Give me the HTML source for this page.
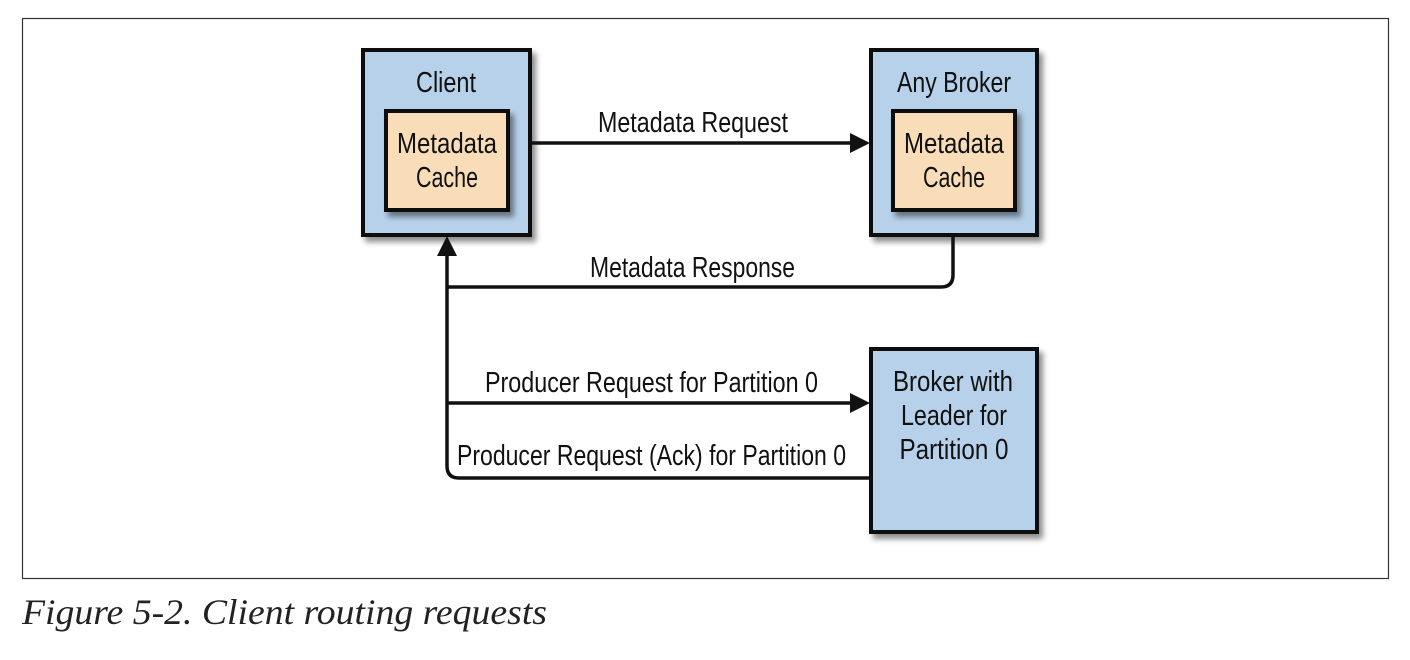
<!DOCTYPE html>
<html><head><style>
html,body{margin:0;padding:0;background:#fff;width:1410px;height:660px;overflow:hidden}
</style></head><body>
<svg width="1410" height="660" viewBox="0 0 1410 660" xmlns="http://www.w3.org/2000/svg">
<defs>
<filter id="sh" x="-10%" y="-10%" width="130%" height="130%"><feDropShadow dx="4" dy="5" stdDeviation="3" flood-color="#000" flood-opacity="0.45"/></filter>
</defs>
<rect x="22.5" y="18.5" width="1366" height="560" fill="#fff" stroke="#333" stroke-width="1.2"/>
<g font-family="'Liberation Sans Narrow','Liberation Sans',sans-serif" font-size="29" fill="#111">
<rect x="363" y="50" width="167" height="185" fill="#b7d1ea" stroke="#111" stroke-width="4" filter="url(#sh)"/>
<text x="446" y="92" text-anchor="middle" textLength="60" lengthAdjust="spacingAndGlyphs">Client</text>
<rect x="386" y="111" width="122" height="99" fill="#f9dcb8" stroke="#111" stroke-width="4" filter="url(#sh)"/>
<text x="447" y="153" text-anchor="middle" textLength="100" lengthAdjust="spacingAndGlyphs">Metadata</text>
<text x="447" y="187" text-anchor="middle" textLength="62" lengthAdjust="spacingAndGlyphs">Cache</text>
<rect x="871" y="50" width="166" height="185" fill="#b7d1ea" stroke="#111" stroke-width="4" filter="url(#sh)"/>
<text x="954" y="92" text-anchor="middle" textLength="114" lengthAdjust="spacingAndGlyphs">Any Broker</text>
<rect x="893" y="111" width="122" height="99" fill="#f9dcb8" stroke="#111" stroke-width="4" filter="url(#sh)"/>
<text x="954" y="153" text-anchor="middle" textLength="100" lengthAdjust="spacingAndGlyphs">Metadata</text>
<text x="954" y="187" text-anchor="middle" textLength="62" lengthAdjust="spacingAndGlyphs">Cache</text>
<rect x="871" y="349" width="166" height="183" fill="#b7d1ea" stroke="#111" stroke-width="4" filter="url(#sh)"/>
<text x="953" y="391" text-anchor="middle" textLength="120" lengthAdjust="spacingAndGlyphs">Broker with</text>
<text x="954" y="425" text-anchor="middle" textLength="106" lengthAdjust="spacingAndGlyphs">Leader for</text>
<text x="954" y="459" text-anchor="middle" textLength="109" lengthAdjust="spacingAndGlyphs">Partition 0</text>
<g stroke="#111" stroke-width="3.5" fill="none">
<line x1="530" y1="143" x2="852" y2="143"/>
<path d="M953 235 V275 Q953 287 941 287 H447"/>
<path d="M447 254 V466 Q447 478 459 478 H870"/>
<line x1="447" y1="403" x2="852" y2="403"/>
</g>
<polygon points="850,133 870,143 850,153" fill="#111"/>
<polygon points="437,256 447,236 457,256" fill="#111"/>
<polygon points="850,393 870,403 850,413" fill="#111"/>
<text x="598" y="132" textLength="190" lengthAdjust="spacingAndGlyphs">Metadata Request</text>
<text x="590" y="277" textLength="205" lengthAdjust="spacingAndGlyphs">Metadata Response</text>
<text x="485" y="392" textLength="333" lengthAdjust="spacingAndGlyphs">Producer Request for Partition 0</text>
<text x="457" y="465" textLength="389" lengthAdjust="spacingAndGlyphs">Producer Request (Ack) for Partition 0</text>
</g>
<text x="22" y="624" font-family="'Liberation Serif',serif" font-style="italic" font-size="36" fill="#222" textLength="525" lengthAdjust="spacingAndGlyphs">Figure 5-2. Client routing requests</text>
</svg>
</body></html>
